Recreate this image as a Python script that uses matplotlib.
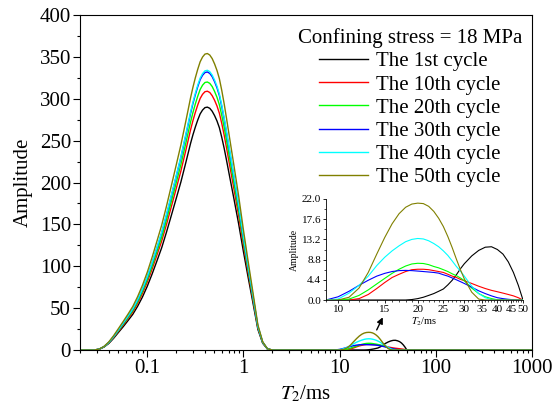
import matplotlib
matplotlib.use('Agg')
import matplotlib.pyplot as plt
from matplotlib.ticker import FixedLocator, FuncFormatter, MultipleLocator, NullFormatter, LogLocator

plt.rcParams['font.family'] = ['Liberation Serif', 'DejaVu Serif']
plt.rcParams['mathtext.fontset'] = 'stix'

#### Data

# T2 grid of the main (short relaxation) peak, ms
t2_main = [0.02818, 0.03162, 0.03548, 0.03981, 0.04467, 0.05012, 0.05623, 0.06310,
           0.07079, 0.07943, 0.08913, 0.1, 0.1122, 0.1259, 0.1413, 0.1585, 0.1778,
           0.1995, 0.2239, 0.2512, 0.2661, 0.2818, 0.2985, 0.3162, 0.3350, 0.3548,
           0.3758, 0.3981, 0.4217, 0.4467, 0.4732, 0.5012, 0.5309, 0.5623, 0.5957,
           0.6310, 0.6683, 0.7079, 0.7943, 0.8913, 1.0, 1.122, 1.259, 1.413, 1.585,
           1.778, 1.995]

black_main = [0, 0.9, 3.5, 7.8, 13.9, 20.9, 27.8, 35.1, 42.6, 52.2, 63.2, 76.0, 90.5,
              106.1, 122.1, 140.7, 160.4, 180.4, 200.7, 223.3, 234.9, 246.5, 256.9,
              266.2, 274.6, 281.9, 286.5, 289.4, 290.0, 288.6, 285.1, 279.9, 273.5,
              265.4, 253.8, 240.7, 226.2, 211.1, 181.3, 150.8, 117.5, 86.1, 55.7,
              24.7, 8.1, 1.2, 0]
red_main = [0, 0.9, 3.7, 8.3, 14.8, 22.2, 29.7, 37.4, 45.4, 55.6, 67.4, 81.0, 96.4,
            113.1, 130.1, 149.9, 170.9, 192.2, 213.8, 237.9, 250.3, 262.7, 273.8,
            283.7, 292.6, 300.3, 305.3, 308.4, 309.0, 307.5, 303.7, 298.2, 291.4,
            282.7, 270.4, 256.5, 241.0, 225.0, 193.1, 160.7, 125.1, 91.8, 59.3,
            26.3, 8.7, 1.2, 0]
green_main = [0, 1.0, 3.8, 8.6, 15.4, 23.0, 30.7, 38.7, 47.0, 57.6, 69.8, 83.8, 99.8,
              117.1, 134.7, 155.2, 177.0, 199.0, 221.4, 246.4, 259.2, 272.0, 283.5,
              293.8, 303.0, 311.0, 316.2, 319.4, 320.0, 318.4, 314.6, 308.8, 301.8,
              292.8, 280.0, 265.6, 249.6, 233.0, 200.0, 166.4, 129.6, 95.0, 61.4,
              27.2, 9.0, 1.3, 0]
blue_main = [0, 1.0, 4.0, 9.0, 15.9, 23.9, 31.9, 40.2, 48.8, 59.8, 72.4, 87.0, 103.6,
             121.5, 139.8, 161.0, 183.6, 206.5, 229.7, 255.6, 268.9, 282.2, 294.2,
             304.8, 314.4, 322.7, 328.0, 331.3, 332.0, 330.3, 326.4, 320.4, 313.1,
             303.8, 290.5, 275.6, 259.0, 241.7, 207.5, 172.6, 134.5, 98.6, 63.7,
             28.2, 9.3, 1.3, 0]
cyan_main = [0, 1.0, 4.0, 9.0, 16.0, 24.0, 32.1, 40.4, 49.1, 60.1, 72.8, 87.5, 104.2,
             122.2, 140.6, 162.0, 184.7, 207.7, 231.1, 257.2, 270.5, 283.9, 295.9,
             306.6, 316.3, 324.6, 330.0, 333.3, 334.0, 332.3, 328.3, 322.3, 315.0,
             305.6, 292.3, 277.2, 260.5, 243.2, 208.8, 173.7, 135.3, 99.2, 64.1,
             28.4, 9.4, 1.3, 0]
olive_main = [0, 1.1, 4.2, 9.6, 17.0, 25.5, 34.0, 42.8, 52.0, 63.7, 77.2, 92.7, 110.4,
              129.6, 149.0, 171.7, 195.8, 220.2, 245.0, 272.6, 286.7, 300.9, 313.6,
              325.0, 335.2, 344.1, 349.8, 353.3, 354.0, 352.2, 348.0, 341.6, 333.8,
              323.9, 309.8, 293.8, 276.1, 257.7, 221.3, 184.1, 143.4, 105.1, 68.0,
              30.1, 9.9, 1.4, 0]

# T2 grid of the small (long relaxation) peak, ms
t2_small = [9, 10, 11, 12, 13, 14, 15, 16, 17, 18, 19, 20, 21, 22, 23, 24, 25, 26, 27,
            28, 29, 30, 32, 34, 36, 38, 40, 42, 44, 46, 48, 50]

black_small = [0, 0, 0, 0, 0, 0, 0, 0, 0, 0, 0.1, 0.3, 0.6, 1.0, 1.4, 1.9, 2.4, 3.3,
               4.3, 5.5, 6.8, 7.9, 9.6, 10.8, 11.5, 11.6, 11.0, 10.0, 8.3, 6.0, 3.2, 0]
red_small = [0, 0, 0, 0.3, 1.2, 2.5, 3.8, 4.9, 5.6, 6.2, 6.6, 6.7, 6.7, 6.6, 6.4, 6.2,
             6.0, 5.6, 5.2, 4.9, 4.5, 4.2, 3.6, 3.0, 2.5, 2.1, 1.8, 1.5, 1.2, 0.9, 0.5, 0]
green_small = [0, 0, 0.2, 1.0, 2.2, 3.5, 4.7, 5.8, 6.7, 7.4, 7.85, 8.0, 7.95, 7.7, 7.3,
               7.0, 6.6, 6.2, 5.7, 5.3, 4.8, 4.2, 2.6, 1.4, 0.7, 0.3, 0.05, 0, 0, 0, 0, 0]
blue_small = [0, 0.7, 1.9, 3.2, 4.3, 5.2, 5.8, 6.2, 6.4, 6.45, 6.4, 6.3, 6.2, 6.1, 6.0,
              5.85, 5.5, 5.2, 4.8, 4.4, 4.0, 3.6, 2.8, 2.0, 1.4, 0.9, 0.5, 0.3, 0.15,
              0.05, 0, 0]
cyan_small = [0, 0.2, 1.5, 3.2, 5.2, 7.5, 9.3, 10.7, 11.8, 12.7, 13.2, 13.4, 13.3, 12.9,
              12.3, 11.6, 10.7, 9.7, 8.5, 7.3, 6.3, 5.2, 3.0, 1.4, 0.5, 0.1, 0, 0, 0, 0,
              0, 0]
olive_small = [0, 0, 0.6, 2.6, 6.0, 10.0, 13.6, 16.6, 18.8, 20.2, 20.9, 21.1, 21.0, 20.4,
               19.3, 17.8, 16.0, 13.8, 11.4, 8.9, 6.6, 4.6, 1.7, 0.2, 0, 0, 0, 0, 0, 0,
               0, 0]

cycle_labels = ['The 1st cycle', 'The 10th cycle', 'The 20th cycle',
                'The 30th cycle', 'The 40th cycle', 'The 50th cycle']
line_colors = ['black', '#ff0000', '#00ff00', '#0000ff', '#00ffff', '#808000']

main_series = [black_main, red_main, green_main, blue_main, cyan_main, olive_main]
small_series = [black_small, red_small, green_small, blue_small, cyan_small, olive_small]

#### Main plot

fig = plt.figure(figsize=(5.54, 4.05), dpi=100)
ax = fig.add_axes([80 / 554, 55 / 405, 452 / 554, 335 / 405])

t2_full = [0.02] + t2_main + t2_small + [1000]
for i in range(len(main_series)):
  amp = [0] + main_series[i] + small_series[i] + [0]
  ax.plot(t2_full, amp, color=line_colors[i], lw=1.0, label=cycle_labels[i],
          solid_joinstyle='round')

ax.set_xscale('log')
ax.set_xlim(0.02, 1000)
ax.set_ylim(0, 400)
ax.xaxis.set_major_locator(FixedLocator([0.1, 1, 10, 100, 1000]))
ax.xaxis.set_major_formatter(FuncFormatter(lambda v, p: '%g' % v))
ax.xaxis.set_minor_locator(LogLocator(base=10, subs=range(2, 10), numticks=20))
ax.xaxis.set_minor_formatter(NullFormatter())
ax.yaxis.set_major_locator(MultipleLocator(50))
ax.yaxis.set_minor_locator(MultipleLocator(25))
ax.tick_params(which='major', direction='out', length=5, width=0.8, labelsize=15, pad=1.5)
ax.tick_params(which='minor', direction='out', length=2.5, width=0.8)
ax.set_xlabel(r'$T_2$/ms', fontsize=15, labelpad=4)
ax.set_ylabel('Amplitude', fontsize=15, labelpad=5)

leg = ax.legend(loc='upper center', bbox_to_anchor=(410 / 554, 1 - 18 / 405),
                bbox_transform=fig.transFigure, frameon=False, fontsize=15,
                title='Confining stress = 18 MPa', title_fontsize=15,
                handlelength=2.35, handletextpad=0.38, labelspacing=0.17,
                borderpad=0.0)

ax.annotate('', xy=(28.1, 39), xytext=(24.3, 24),
            arrowprops=dict(arrowstyle='-|>', color='black', lw=1.0,
                            mutation_scale=9, shrinkA=0, shrinkB=0))

#### Inset

axi = fig.add_axes([326 / 554, 105 / 405, 197 / 554, 101 / 405])
for i in range(len(small_series)):
  axi.plot(t2_small, small_series[i], color=line_colors[i], lw=0.8)
axi.set_xscale('log')
axi.set_xlim(9, 50)
axi.set_ylim(0, 22)
axi.xaxis.set_major_locator(FixedLocator([10, 15, 20, 25, 30, 35, 40, 45, 50]))
axi.xaxis.set_major_formatter(FuncFormatter(lambda v, p: '%g' % v))
axi.xaxis.set_minor_locator(FixedLocator(list(range(9, 50))))
axi.xaxis.set_minor_formatter(NullFormatter())
axi.yaxis.set_major_locator(FixedLocator([0, 4.4, 8.8, 13.2, 17.6, 22.0]))
axi.yaxis.set_major_formatter(FuncFormatter(lambda v, p: '%.1f' % v))
axi.yaxis.set_minor_locator(FixedLocator([2.2, 6.6, 11.0, 15.4, 19.8]))
axi.tick_params(which='major', direction='out', length=2.5, width=0.6, labelsize=8, pad=1)
axi.tick_params(which='minor', direction='out', length=1.2, width=0.5)
axi.spines['top'].set_visible(False)
axi.spines['right'].set_visible(False)
for s in ['left', 'bottom']:
  axi.spines[s].set_linewidth(0.6)
axi.set_xlabel(r'$T_2$/ms', fontsize=7.5, labelpad=1)
axi.set_ylabel('Amplitude', fontsize=7, labelpad=2)

fig.savefig('out.png', dpi=100)
